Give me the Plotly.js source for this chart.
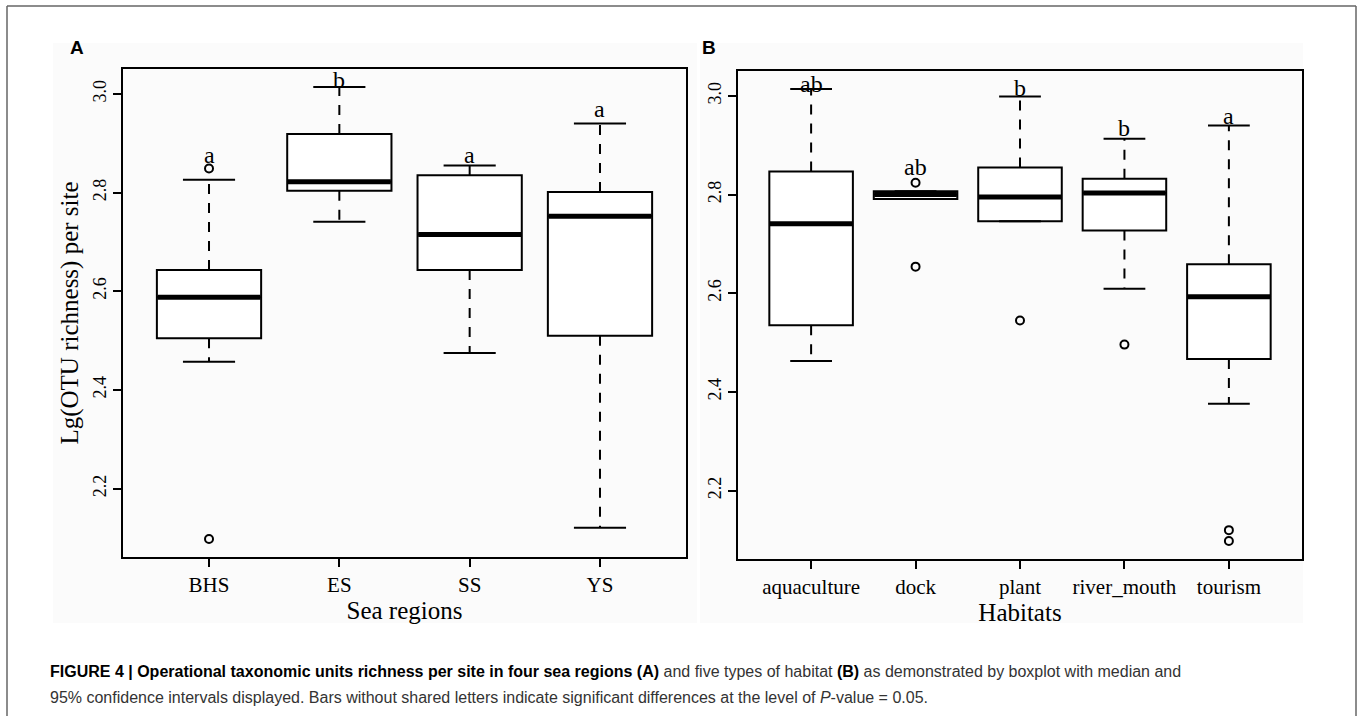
<!DOCTYPE html>
<html>
<head>
<meta charset="utf-8">
<script src="https://cdn.plot.ly/plotly-3.0.1.min.js"></script>
<style>html,body{margin:0;padding:0;background:#fff;}#chart{width:1358px;height:716px;}</style>
</head>
<body>
<div id="chart"></div>
<script>
// ---------- Panel A: sea regions ----------
const regions = ['BHS', 'ES', 'SS', 'YS'];
const regLower = [2.457, 2.741, 2.475, 2.121];
const regQ1 = [2.505, 2.804, 2.643, 2.510];
const regMedian = [2.588, 2.822, 2.715, 2.752];
const regQ3 = [2.643, 2.919, 2.835, 2.801];
const regUpper = [2.826, 3.014, 2.855, 2.940];
const regOutlierCat = ['BHS', 'BHS'];
const regOutlierY = [2.849, 2.098];
const regLetters = ['a', 'b', 'a', 'a'];
const regLetterY = [2.876, 3.029, 2.876, 2.969];

// ---------- Panel B: habitats ----------
const habitats = ['aquaculture', 'dock', 'plant', 'river_mouth', 'tourism'];
const habLower = [2.463, 2.791, 2.746, 2.609, 2.376];
const habQ1 = [2.535, 2.791, 2.746, 2.727, 2.467];
const habMedian = [2.741, 2.800, 2.795, 2.803, 2.593];
const habQ3 = [2.847, 2.807, 2.855, 2.832, 2.659];
const habUpper = [3.014, 2.807, 2.999, 2.913, 2.940];
const habOutlierCat = ['dock', 'dock', 'plant', 'river_mouth', 'tourism', 'tourism'];
const habOutlierY = [2.824, 2.654, 2.545, 2.496, 2.120, 2.098];
const habLetters = ['ab', 'ab', 'b', 'b', 'a'];
const habLetterY = [3.024, 2.856, 3.017, 2.936, 2.959];

const yTicks = [2.2, 2.4, 2.6, 2.8, 3.0];
const yTickText = ['2.2', '2.4', '2.6', '2.8', '3.0'];

// ---------- styling ----------
const SERIF = 'Liberation Serif, Times New Roman, serif';
const CAPFONT = 'Liberation Sans, Arial, sans-serif';
const SANS = 'Liberation Sans, Arial, sans-serif';
const BOXW = 0.8, CAPW = 0.4;
const W = 1358, H = 716;

function panelTraces(cats, lower, q1, med, q3, upper, outCat, outY, xa, ya) {
  const pos = cats.map((_, i) => i + 1);
  const traces = [];
  // dashed whiskers
  const wx = [], wy = [];
  pos.forEach((p, i) => {
    wx.push(p, p, null, p, p, null);
    wy.push(q3[i], upper[i], null, q1[i], lower[i], null);
  });
  traces.push({type: 'scatter', mode: 'lines', x: wx, y: wy, xaxis: xa, yaxis: ya,
    line: {color: 'black', width: 2, dash: '10px,9px'}, hoverinfo: 'skip'});
  // caps
  const cx = [], cy = [];
  pos.forEach((p, i) => {
    cx.push(p - CAPW / 2, p + CAPW / 2, null, p - CAPW / 2, p + CAPW / 2, null);
    cy.push(upper[i], upper[i], null, lower[i], lower[i], null);
  });
  traces.push({type: 'scatter', mode: 'lines', x: cx, y: cy, xaxis: xa, yaxis: ya,
    line: {color: 'black', width: 2}, hoverinfo: 'skip'});
  // box bodies
  traces.push({type: 'box', x: pos, q1: q1, median: med, q3: q3,
    lowerfence: q1, upperfence: q3, width: BOXW, boxpoints: false,
    xaxis: xa, yaxis: ya, fillcolor: 'white', line: {color: 'black', width: 2},
    whiskerwidth: 0, hoverinfo: 'skip'});
  // thick medians
  const mx = [], my = [];
  pos.forEach((p, i) => {
    mx.push(p - BOXW / 2 + 0.005, p + BOXW / 2 - 0.005, null);
    my.push(med[i], med[i], null);
  });
  traces.push({type: 'scatter', mode: 'lines', x: mx, y: my, xaxis: xa, yaxis: ya,
    line: {color: 'black', width: 5}, hoverinfo: 'skip'});
  // outliers
  traces.push({type: 'scatter', mode: 'markers', x: outCat.map(c => cats.indexOf(c) + 1), y: outY,
    xaxis: xa, yaxis: ya, marker: {symbol: 'circle-open', size: 8, color: 'black', line: {width: 2, color: 'black'}},
    hoverinfo: 'skip'});
  return traces;
}

const data = [].concat(
  panelTraces(regions, regLower, regQ1, regMedian, regQ3, regUpper, regOutlierCat, regOutlierY, 'x', 'y'),
  panelTraces(habitats, habLower, habQ1, habMedian, habQ3, habUpper, habOutlierCat, habOutlierY, 'x2', 'y2')
);

function xAxis(cats, domain, range, title, anchor) {
  return {domain: domain, anchor: anchor, range: range, tickmode: 'array',
    tickvals: cats.map((_, i) => i + 1), ticktext: cats,
    ticks: 'outside', ticklen: 8, tickwidth: 2, tickcolor: 'black',
    showline: true, mirror: true, linewidth: 2, linecolor: 'black',
    showgrid: false, zeroline: false, automargin: false, fixedrange: true,
    tickfont: {family: SERIF, size: 21, color: 'black'},
    title: {text: title, font: {family: SERIF, size: 25, color: 'black'}, standoff: 3}};
}
function yAxis(domain, title, anchor) {
  return {domain: domain, anchor: anchor, range: [2.0615, 3.0505], tickmode: 'array',
    tickvals: yTicks, ticktext: yTickText, tickangle: -90,
    ticks: 'outside', ticklen: 8, tickwidth: 2, tickcolor: 'black',
    showline: true, mirror: true, linewidth: 2, linecolor: 'black',
    showgrid: false, zeroline: false, automargin: false, fixedrange: true,
    tickfont: {family: SERIF, size: 18, color: 'black'},
    title: {text: title, font: {family: SERIF, size: 25, color: 'black'}, standoff: 4}};
}

const annotations = [];
regLetters.forEach((t, i) => annotations.push({xref: 'x', yref: 'y', x: i + 1, y: regLetterY[i], text: t,
  showarrow: false, font: {family: SERIF, size: 24, color: 'black'}}));
habLetters.forEach((t, i) => annotations.push({xref: 'x2', yref: 'y2', x: i + 1, y: habLetterY[i], text: t,
  showarrow: false, font: {family: SERIF, size: 24, color: 'black'}}));
annotations.push({xref: 'paper', yref: 'paper', x: 68 / W, y: 1 - 35 / H, text: '<b>A</b>', showarrow: false,
  font: {family: SANS, size: 19, color: 'black'}});
annotations.push({xref: 'paper', yref: 'paper', x: 709 / W, y: 1 - 35 / H, text: '<b>B</b>', showarrow: false,
  font: {family: SANS, size: 19, color: 'black'}});
annotations.push({xref: 'paper', yref: 'paper', x: 48 / W, y: 1 - 671 / H, xanchor: 'left', yanchor: 'middle',
  text: '<b><span style="color:#000">FIGURE 4 | Operational taxonomic units richness per site in four sea regions (A)</span></b> and five types of habitat <b><span style="color:#000">(B)</span></b> as demonstrated by boxplot with median and',
  showarrow: false, align: 'left', font: {family: CAPFONT, size: 16, color: '#333'}});
annotations.push({xref: 'paper', yref: 'paper', x: 48 / W, y: 1 - 697 / H, xanchor: 'left', yanchor: 'middle',
  text: '95% confidence intervals displayed. Bars without shared letters indicate significant differences at the level of <i>P</i>-value = 0.05.',
  showarrow: false, align: 'left', font: {family: CAPFONT, size: 16, color: '#333'}});

const shapes = [
  {type: 'rect', xref: 'paper', yref: 'paper', x0: 53 / W, x1: 697 / W, y0: 1 - 623 / H, y1: 1 - 43 / H,
    fillcolor: '#fbfbfb', line: {width: 0}, layer: 'below'},
  {type: 'rect', xref: 'paper', yref: 'paper', x0: 700 / W, x1: 1303 / W, y0: 1 - 623 / H, y1: 1 - 43 / H,
    fillcolor: '#fbfbfb', line: {width: 0}, layer: 'below'},
  {type: 'line', xref: 'paper', yref: 'paper', x0: 7 / W, x1: 7 / W, y0: 0, y1: 1 - 6 / H, line: {color: '#666', width: 1.5}},
  {type: 'line', xref: 'paper', yref: 'paper', x0: 7 / W, x1: 1356 / W, y0: 1 - 6 / H, y1: 1 - 6 / H, line: {color: '#666', width: 1.5}},
  {type: 'line', xref: 'paper', yref: 'paper', x0: 1356 / W, x1: 1356 / W, y0: 0, y1: 1 - 6 / H, line: {color: '#666', width: 1.5}}
];

const layout = {
  width: W, height: H, margin: {l: 0, r: 0, t: 0, b: 0, pad: 0},
  paper_bgcolor: 'white', plot_bgcolor: 'rgba(0,0,0,0)', showlegend: false,
  xaxis: xAxis(regions, [123 / W, 686 / W], [0.34, 4.66], 'Sea regions', 'y'),
  yaxis: yAxis([1 - 557 / H, 1 - 69 / H], 'Lg(OTU richness) per site', 'x'),
  xaxis2: xAxis(habitats, [738 / W, 1302 / W], [0.3, 5.7], 'Habitats', 'y2'),
  yaxis2: yAxis([1 - 559 / H, 1 - 71 / H], '', 'x2'),
  annotations: annotations, shapes: shapes
};

Plotly.newPlot('chart', data, layout, {staticPlot: true, displayModeBar: false});
</script>
</body>
</html>
